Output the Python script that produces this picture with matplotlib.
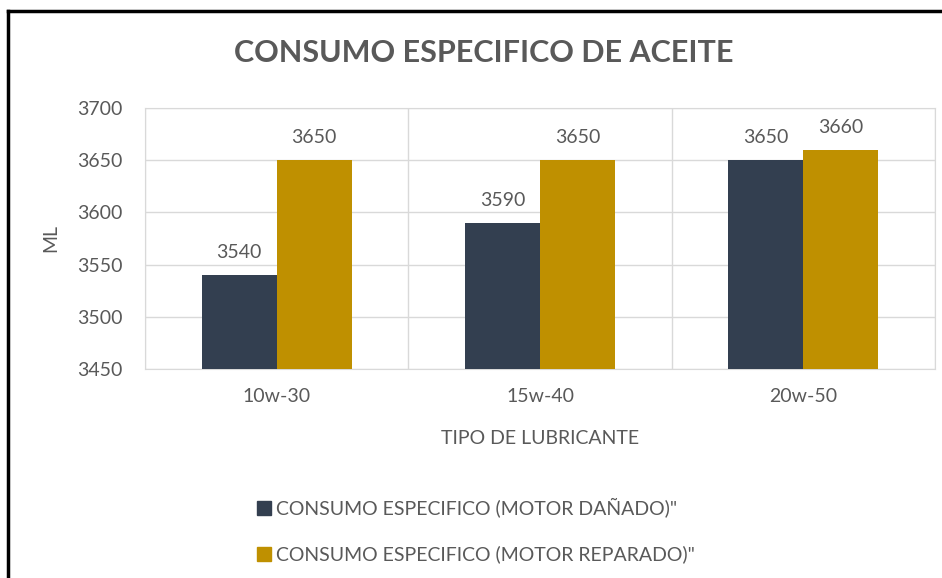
import matplotlib
matplotlib.use("Agg")
import matplotlib.pyplot as plt
import numpy as np
from matplotlib.lines import Line2D

categories = ["10w-30", "15w-40", "20w-50"]
danado = [3540, 3590, 3650]
reparado = [3650, 3650, 3660]
series_names = ['CONSUMO ESPECIFICO (MOTOR DAÑADO)"', 'CONSUMO ESPECIFICO (MOTOR REPARADO)"']
colors = ["#333F50", "#BF9000"]

plt.rcParams['font.family'] = ['Lato', 'DejaVu Sans']
txt = "#595959"

fig = plt.figure(figsize=(9.42, 5.78), dpi=100)
ax = fig.add_axes([145/942, 1-369/578, (935-145)/942, (369-108)/578])

x = np.arange(len(categories))
w = 0.285
b1 = ax.bar(x - w/2, danado, w, color=colors[0], zorder=3)
b2 = ax.bar(x + w/2, reparado, w, color=colors[1], zorder=3)
for bars in (b1, b2):
    for r in bars:
        ax.annotate(f"{int(r.get_height())}", (r.get_x() + r.get_width()/2, r.get_height()),
                    xytext=(0, 10), textcoords="offset points", ha="center", va="bottom",
                    fontsize=14, color=txt)

ax.set_ylim(3450, 3700)
ax.set_yticks(np.arange(3450, 3701, 50))
ax.set_xlim(-0.5, len(categories) - 0.5)
ax.set_xticks(x)
ax.set_xticklabels(categories)
ax.tick_params(length=0, labelsize=14, labelcolor=txt)
ax.tick_params(axis='x', pad=14)
ax.tick_params(axis='y', pad=16)
ax.grid(axis='y', color="#D9D9D9", lw=1, zorder=0)
for xb in np.arange(-0.5, len(categories), 1.0):
    ax.axvline(xb, color="#D9D9D9", lw=1, zorder=0)
for s in ax.spines.values():
    s.set_color("#D9D9D9")
ax.set_xlabel("TIPO DE LUBRICANTE", fontsize=14, color=txt, labelpad=18)
ax.set_ylabel("ML", fontsize=14, color=txt, labelpad=13)

fig.text(484/942, 1-53/578, "CONSUMO ESPECIFICO DE ACEITE", ha="center", va="center",
         fontsize=22, fontweight="bold", color=txt)

handles = [Line2D([], [], marker='s', ls='', color=c, markersize=10) for c in colors]
leg = fig.legend(handles, series_names, loc="upper left", bbox_to_anchor=(239/942, 1-480/578),
                 frameon=False, fontsize=14, labelcolor=txt, handlelength=0.8, handletextpad=0.2,
                 labelspacing=1.45)

# screenshot frame
fig.add_artist(Line2D([8/942, 8/942], [0, 1-11/578], color="black", lw=2.5, transform=fig.transFigure))
fig.add_artist(Line2D([8/942, 1], [1-11/578, 1-11/578], color="black", lw=2.5, transform=fig.transFigure))

fig.savefig("out.png", dpi=100)
